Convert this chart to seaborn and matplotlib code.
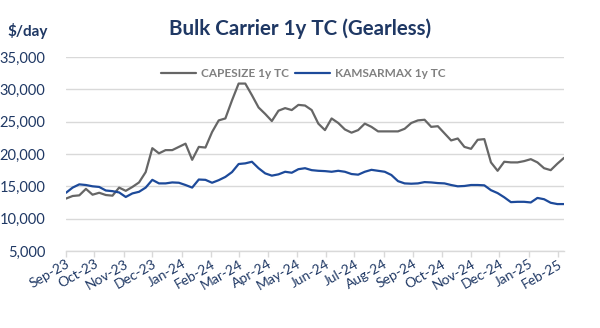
import numpy as np
import pandas as pd
import matplotlib
matplotlib.use("Agg")
import matplotlib.pyplot as plt
import matplotlib.dates as mdates
import matplotlib.ticker as mticker
import seaborn as sns

# Weekly 1-year time-charter rates, $/day
start_date = "2023-09-01"
capesize = [
    13100, 13500, 13600, 14600, 13700, 14000, 13650, 13550, 14800, 14300,
    14900, 15600, 17200, 20900, 20100, 20600, 20600, 21100, 21600, 19100,
    21100, 21000, 23400, 25200, 25500, 28300, 30900, 30900, 29100, 27200,
    26200, 25100, 26700, 27100, 26800, 27600, 27500, 26800, 24700, 23700,
    25500, 24800, 23800, 23300, 23700, 24700, 24200, 23500, 23500, 23500,
    23500, 23900, 24800, 25200, 25300, 24200, 24300, 23200, 22100, 22400,
    21100, 20800, 22200, 22300, 18700, 17400, 18800, 18700, 18700, 18900,
    19200, 18700, 17800, 17500, 18500, 19400,
]
kamsarmax = [
    14000, 14800, 15300, 15200, 15000, 14900, 14350, 14250, 14050, 13350,
    13900, 14150, 14800, 16000, 15450, 15450, 15600, 15550, 15200, 14800,
    16050, 16000, 15550, 15950, 16450, 17200, 18450, 18550, 18800, 17800,
    17000, 16650, 16850, 17250, 17100, 17650, 17800, 17500, 17400, 17350,
    17250, 17400, 17250, 16900, 16800, 17250, 17550, 17400, 17250, 16750,
    15800, 15450, 15400, 15450, 15650, 15600, 15500, 15450, 15200, 15000,
    15050, 15200, 15200, 15150, 14400, 13950, 13300, 12550, 12600, 12600,
    12500, 13200, 13000, 12450, 12250, 12250,
]
series_names = ["CAPESIZE 1y TC", "KAMSARMAX 1y TC"]
y_ticks = [5000, 10000, 15000, 20000, 25000, 30000, 35000]

dates = pd.date_range(start_date, periods=len(capesize), freq="7D")
df = pd.concat([
    pd.DataFrame({"date": dates, "rate": capesize, "series": series_names[0]}),
    pd.DataFrame({"date": dates, "rate": kamsarmax, "series": series_names[1]}),
])

navy = "#1f3864"
grid_col = "#d9d9d9"
cape_col = "#666666"
kams_col = "#1d4a9a"

sns.set_theme(style="white")
plt.rcParams["font.family"] = ["Lato", "DejaVu Sans"]

fig = plt.figure(figsize=(6.0, 3.28), dpi=100)
ax = fig.add_axes([0.11, 0.235, 0.83, 0.591])

sns.lineplot(
    data=df, x="date", y="rate", hue="series", ax=ax,
    palette={series_names[0]: cape_col, series_names[1]: kams_col},
    linewidth=1.6, legend=False,
)

ax.set_ylim(y_ticks[0], y_ticks[-1])
ax.set_xlim(dates[0], dates[-1])
ax.yaxis.set_major_locator(mticker.FixedLocator(y_ticks))
ax.yaxis.set_major_formatter(mticker.FuncFormatter(lambda v, p: f"{int(v):,}"))
ax.grid(axis="y", color=grid_col, linewidth=1.0)
ax.set_axisbelow(True)

ax.xaxis.set_major_locator(mdates.MonthLocator())
ax.xaxis.set_major_formatter(mdates.DateFormatter("%b-%y"))

for side in ("left", "right", "top"):
    ax.spines[side].set_visible(False)
ax.spines["bottom"].set_color(grid_col)
ax.spines["bottom"].set_linewidth(1.0)

ax.tick_params(axis="y", length=0, labelsize=10.5, labelcolor=navy, pad=15)
ax.tick_params(axis="x", length=4, width=1.0, color=grid_col, direction="out",
               labelsize=10, labelcolor=navy, pad=1, bottom=True)
for lbl in ax.get_xticklabels():
    lbl.set_rotation(30)
    lbl.set_ha("right")
    lbl.set_rotation_mode("anchor")

ax.set_xlabel("")
ax.set_ylabel("")

handles = [
    plt.Line2D([], [], color=cape_col, linewidth=1.6),
    plt.Line2D([], [], color=kams_col, linewidth=1.6),
]
fig.legend(handles, series_names, loc="center", bbox_to_anchor=(0.505, 0.777),
           ncol=2, frameon=False, handlelength=3.0, handletextpad=0.4,
           columnspacing=0.5, prop={"size": 8.5, "weight": "bold"},
           labelcolor="#808080")

fig.text(0.5, 0.913, "Bulk Carrier 1y TC (Gearless)", ha="center", va="center",
         fontsize=14.8, fontweight="bold", color=navy)
fig.text(0.012, 0.905, "$/day", ha="left", va="center",
         fontsize=11, fontweight="bold", color=navy)

fig.savefig("out.png", dpi=100)
